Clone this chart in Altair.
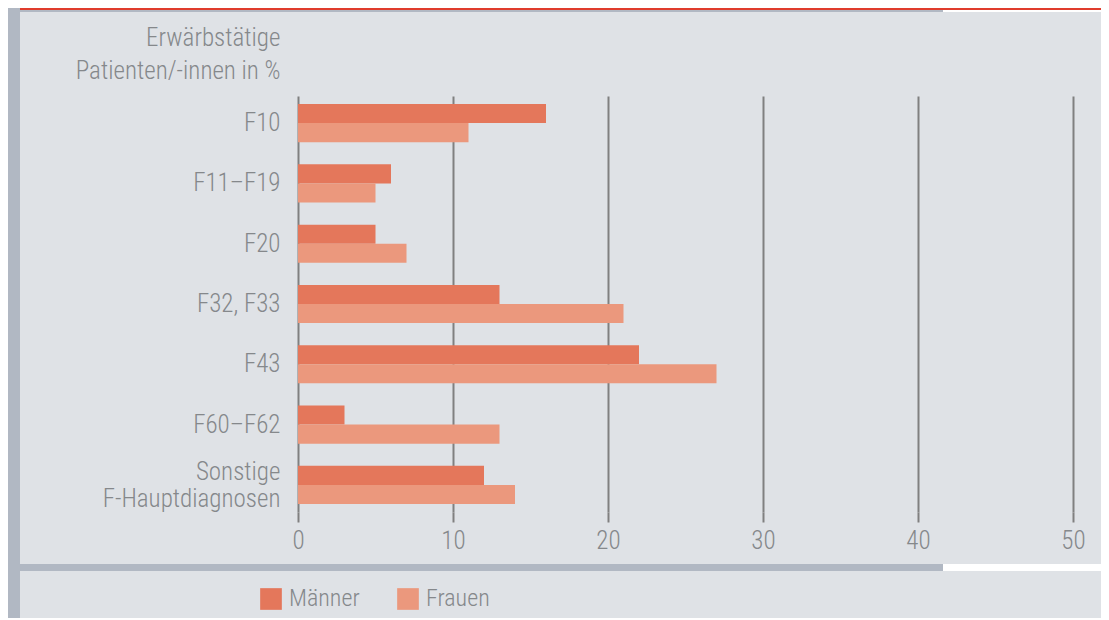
import altair as alt
import pandas as pd

categories = ["F10", "F11–F19", "F20", "F32, F33", "F43", "F60–F62", "Sonstige F-Hauptdiagnosen"]
maenner = [16, 6, 5, 13, 22, 3, 12]
frauen = [11, 5, 7, 21, 27, 13, 14]
groups = ["Männer", "Frauen"]
colors = ["#e4775b", "#eb987d"]
x_ticks = [0, 10, 20, 30, 40, 50]
y_title = ["Erwärbstätige", "Patienten/-innen in %"]

rows = []
for c, m, f in zip(categories, maenner, frauen):
    rows.append({"cat": c, "group": "Männer", "value": m})
    rows.append({"cat": c, "group": "Frauen", "value": f})
df = pd.DataFrame(rows)

FONT = "Liberation Sans Narrow, Roboto Condensed, Roboto, sans-serif"
TXT = "#85888b"
GRID = "#808080"
BG = "#dfe2e6"
STRIP = "#b1b8c3"
RED = "#e03c2d"


def deco(x, x2, y, y2, color):
    return alt.Chart(alt.Data(values=[{}])).mark_rect(color=color).encode(
        x=alt.value(x), x2=alt.value(x2), y=alt.value(y), y2=alt.value(y2)
    )


decos = [
    deco(-290, -278, -88, 530, STRIP),
    deco(-278, 803, -88, -86, RED),
    deco(-278, 645, -86, -84, STRIP),
    deco(645, 803, -86, -84, "#ffffff"),
    deco(-278, 645, 468, 475, STRIP),
    deco(645, 803, 468, 475, "#ffffff"),
]

bars = alt.Chart(df).mark_bar().encode(
    x=alt.X(
        "value:Q",
        scale=alt.Scale(domain=[0, 50], nice=False),
        axis=alt.Axis(
            values=x_ticks, title=None, grid=True, gridColor=GRID, gridWidth=2,
            domain=False, ticks=True, tickSize=10, tickColor=GRID, tickWidth=2,
            labelFont=FONT, labelFontSize=25, labelFontWeight=300, labelColor=TXT,
            labelPadding=6, labelFlush=False,
        ),
    ),
    y=alt.Y(
        "cat:N", sort=categories,
        scale=alt.Scale(paddingInner=0.368, paddingOuter=0.133),
        axis=alt.Axis(
            title=y_title, titleAngle=0, titleAlign="right", titleBaseline="alphabetic",
            titleX=-18, titleY=-51, titleLineHeight=33, titleFont=FONT, titleFontSize=25,
            titleFontWeight=300, titleColor=TXT,
            labelFont=FONT, labelFontSize=25, labelFontWeight=300, labelColor=TXT,
            labelPadding=18, labelLineHeight=27, labelLimit=0,
            labelExpr="datum.value == 'Sonstige F-Hauptdiagnosen' ? ['Sonstige', 'F-Hauptdiagnosen'] : datum.label",
            labelOffset={"condition": {"test": "datum.value == 'Sonstige F-Hauptdiagnosen'", "value": -13}, "value": 0},
            domain=False, ticks=False, grid=False,
        ),
    ),
    yOffset=alt.YOffset("group:N", sort=groups),
    color=alt.Color(
        "group:N", sort=groups,
        scale=alt.Scale(domain=groups, range=colors),
        legend=alt.Legend(
            orient="none", legendX=-39, legendY=491, direction="horizontal", title=None,
            symbolType="square", symbolSize=470, symbolStrokeWidth=0, symbolOpacity=1,
            labelFont=FONT, labelFontSize=24, labelFontWeight=300, labelColor=TXT,
            labelOffset=6, columnPadding=36,
        ),
    ),
)

chart = alt.layer(*decos, bars).properties(
    width=775, height=416,
    padding={"left": 290, "top": 88, "right": 28, "bottom": 106},
    autosize="none",
    background=BG,
).configure_view(stroke=None)

chart.save("out.html", embed_options={"renderer": "svg", "actions": False})
